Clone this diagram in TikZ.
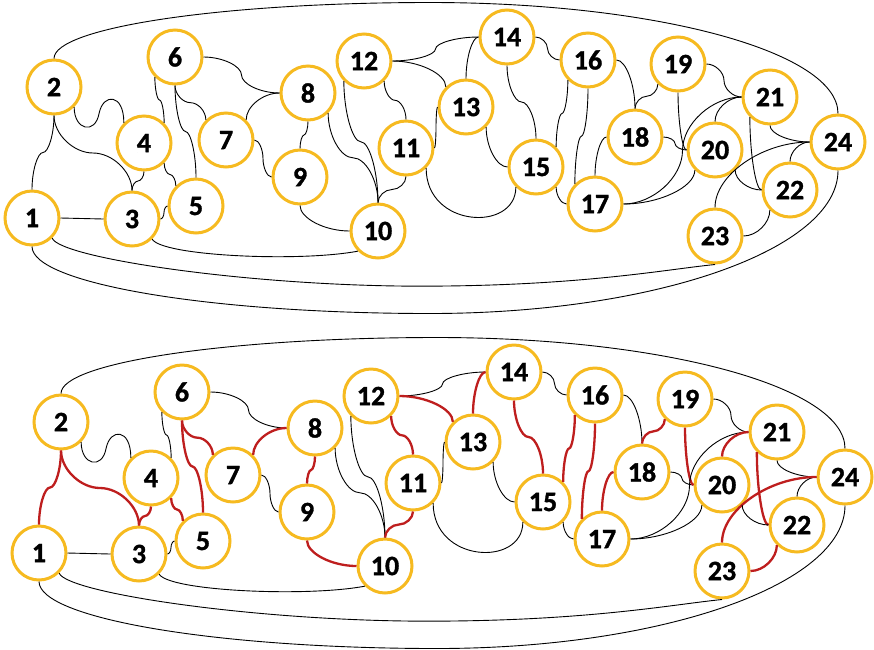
\documentclass[tikz,border=0pt]{standalone}
\usepackage{fontspec}
\setmainfont{Carlito}[BoldFont={Carlito Bold}, BoldFeatures={FakeBold=1.2}]
\usetikzlibrary{calc}
\definecolor{gold}{RGB}{246,186,32}
\definecolor{hpred}{RGB}{190,30,30}
% S-connector, vertical start/end, horizontal middle
\newcommand\Sv[3]{\draw[#1] let \p1=(#2), \p2=(#3), \p3=($(\p1)!0.5!(\p2)$) in
  (\p1) .. controls (\x1,{\y1*0.75+\y2*0.25}) and ({\x1*0.75+\x2*0.25},\y3) .. (\p3)
        .. controls ({\x1*0.25+\x2*0.75},\y3) and (\x2,{\y1*0.25+\y2*0.75}) .. (\p2);}
% S-connector, horizontal start/end, vertical middle
\newcommand\Sh[3]{\draw[#1] let \p1=(#2), \p2=(#3), \p3=($(\p1)!0.5!(\p2)$) in
  (\p1) .. controls ({\x1*0.75+\x2*0.25},\y1) and (\x3,{\y1*0.75+\y2*0.25}) .. (\p3)
        .. controls (\x3,{\y1*0.25+\y2*0.75}) and ({\x1*0.25+\x2*0.75},\y2) .. (\p2);}
% single bend, vertical start, horizontal end
\newcommand\Lvh[3]{\draw[#1] let \p1=(#2), \p2=(#3), \p3=($(\p1)!0.5!(\p2)$) in
  (\p1) .. controls (\x1,\y3) and (\x3,\y2) .. (\p2);}
% single bend, horizontal start, vertical end
\newcommand\Lhv[3]{\draw[#1] let \p1=(#2), \p2=(#3), \p3=($(\p1)!0.5!(\p2)$) in
  (\p1) .. controls (\x3,\y1) and (\x2,\y3) .. (\p2);}
\newcommand\drawgraph{%
  \foreach \i/\x/\y in {1/32/218, 2/54/87, 3/132/219, 4/144/143, 5/196/206, 6/175/57,
    7/226/140, 8/308/93, 9/300/177, 10/378/231, 11/406/148, 12/364/61, 13/466/107,
    14/507/37, 15/536/167, 16/588/60, 17/595/204, 18/635/137, 19/678/64, 20/715/150,
    21/770/97, 22/790/190, 23/715/236, 24/838/142}
    {\node[vtx] (n\i) at ({\x+\ox},{\y+\oy}) {\i};}
  \draw[plainedge] (n1.0) -- (n3.180);
  \Sv{pathedge}{n2.-90}{n1.90}
  \Sv{pathedge}{n2.-90}{n3.90}
  \draw[plainedge] (n2.-45) .. controls +(0,23) and +(-4,22) .. ++(25,6)
     .. controls +(4,-20) and +(0,-30) .. (n4.135);
  \Sv{pathedge}{n4.-90}{n3.90}
  \Sv{pathedge}{n4.-45}{n5.135}
  \Sv{plainedge}{n6.-135}{n4.45}
  \Sv{pathedge}{n6.-90}{n5.90}
  \Sv{pathedge}{n6.-90}{n7.135}
  \Sh{plainedge}{n6.0}{n8.180}
  \Lvh{pathedge}{n7.45}{n8.180}
  \Sh{plainedge}{n7.0}{n9.180}
  \Sv{pathedge}{n8.-90}{n9.90}
  \Sv{plainedge}{n8.-45}{n10.90}
  \Sv{plainedge}{n12.-135}{n10.90}
  \Lvh{pathedge}{n9.-90}{n10.180}
  \Sv{pathedge}{n11.-90}{n10.90}
  \Sv{pathedge}{n12.-45}{n11.90}
  \Sh{plainedge}{n12.0}{n14.180}
  \Lhv{pathedge}{n12.0}{n13.135}
  \Sh{plainedge}{n11.0}{n13.180}
  \draw[plainedge] (n11.-45) .. controls +(0,60) and +(0,45) .. (n15.-135);
  \Lvh{pathedge}{n13.90}{n14.180}
  \Lvh{plainedge}{n13.-45}{n15.180}
  \Sv{pathedge}{n14.-90}{n15.90}
  \Sh{plainedge}{n14.0}{n16.180}
  \Sv{pathedge}{n16.-135}{n15.45}
  \Sv{pathedge}{n16.-90}{n17.135}
  \Lvh{plainedge}{n15.-45}{n17.180}
  \Lhv{plainedge}{n16.0}{n18.90}
  \Sv{pathedge}{n19.-135}{n18.90}
  \Lhv{pathedge}{n18.180}{n17.90}
  \Sh{plainedge}{n18.0}{n20.180}
  \Lvh{pathedge}{n19.-90}{n20.180}
  \Sh{plainedge}{n19.0}{n21.180}
  \Sh{plainedge}{n21.180}{n17.0}
  \Lvh{plainedge}{n20.-135}{n17.0}
  \Lhv{pathedge}{n21.180}{n20.90}
  \Lvh{pathedge}{n21.-135}{n22.180}
  \Lvh{plainedge}{n21.-90}{n24.180}
  \Lhv{plainedge}{n24.180}{n22.90}
  \Lhv{pathedge}{n24.180}{n23.90}
  \Lvh{plainedge}{n20.-45}{n22.180}
  \Lhv{pathedge}{n23.0}{n22.-135}
  \Sh{plainedge}{n3.0}{n5.180}
  \draw[plainedge] (n3.-45) .. controls +(10,17) and +(-58,11) .. (n10.-135);
  \draw[plainedge] (n1.-45) .. controls +(8,20) and +(-170,0) .. ++(368,48)
     .. controls +(160,0) and +(-50,5) .. (n23.-90);
  \draw[plainedge] (n1.-90) .. controls +(0,37) and +(-220,0) .. ++(398,67)
     .. controls +(225,0) and +(0,79) .. (n24.-90);
  \draw[plainedge] (n2.90) .. controls +(0,-31) and +(-208,0) .. ++(376,-56)
     .. controls +(225,0) and +(0,-62) .. (n24.90);
}
\begin{document}
\begin{tikzpicture}[x=1pt,y=-1pt,
  vtx/.style={circle, draw=gold, line width=3pt, fill=white, minimum size=54pt,
    inner sep=0pt, font=\bfseries\fontsize{28}{28}\selectfont},
  plainedge/.style={black, line width=0.9pt}]
\useasboundingbox (0,0) rectangle (874,649);
\def\ox{0}\def\oy{0}
\begin{scope}[name prefix=a-, pathedge/.style={plainedge}]
\drawgraph
\end{scope}
\def\ox{7}\def\oy{335}
\begin{scope}[name prefix=b-, pathedge/.style={hpred, line width=2.3pt}]
\drawgraph
\end{scope}
\end{tikzpicture}
\end{document}
